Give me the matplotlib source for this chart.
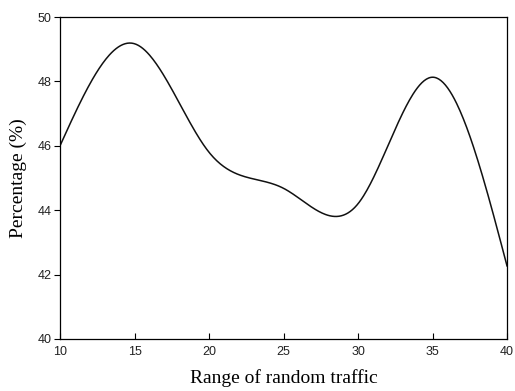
import matplotlib
matplotlib.use("Agg")
import matplotlib.pyplot as plt
import numpy as np

# values
traffic_range = [10, 15, 20, 25, 30, 35, 40]
percentage = [46.0, 49.17, 45.8, 44.68, 44.2, 48.13, 42.27]
x_ticks = [10, 15, 20, 25, 30, 35, 40]
y_ticks = [40, 42, 44, 46, 48, 50]


def natural_spline(x, y, n=400):
    """Natural cubic spline through the points, used only to draw a smooth line."""
    x = np.asarray(x, float)
    y = np.asarray(y, float)
    k = len(x)
    h = np.diff(x)
    A = np.zeros((k, k))
    b = np.zeros(k)
    A[0, 0] = A[-1, -1] = 1
    for i in range(1, k - 1):
        A[i, i - 1] = h[i - 1]
        A[i, i] = 2 * (h[i - 1] + h[i])
        A[i, i + 1] = h[i]
        b[i] = 3 * ((y[i + 1] - y[i]) / h[i] - (y[i] - y[i - 1]) / h[i - 1])
    c = np.linalg.solve(A, b)
    xs = np.linspace(x[0], x[-1], n)
    idx = np.clip(np.searchsorted(x, xs) - 1, 0, k - 2)
    dx = xs - x[idx]
    hi = h[idx]
    bi = (y[idx + 1] - y[idx]) / hi - hi * (2 * c[idx] + c[idx + 1]) / 3
    di = (c[idx + 1] - c[idx]) / (3 * hi)
    ys = y[idx] + bi * dx + c[idx] * dx ** 2 + di * dx ** 3
    return xs, ys


fig = plt.figure(figsize=(5.15, 3.91), dpi=100)
ax = fig.add_axes([0.1165, 0.133, 0.868, 0.8235])

xs, ys = natural_spline(traffic_range, percentage)
ax.plot(xs, ys, color="#111111", linewidth=1.1)

ax.set_xlim(10, 40)
ax.set_ylim(40, 50)
ax.set_xticks(x_ticks)
ax.set_yticks(y_ticks)
ax.tick_params(axis="x", direction="in", length=4, width=0.8, pad=5,
               labelsize=9, labelcolor="#222222")
ax.tick_params(axis="y", direction="out", length=4, width=0.8, pad=2,
               labelsize=9, labelcolor="#222222")
for lbl in ax.get_xticklabels() + ax.get_yticklabels():
    lbl.set_fontfamily("Liberation Sans")
for s in ax.spines.values():
    s.set_linewidth(0.9)

ax.set_xlabel("Range of random traffic", fontfamily="Liberation Serif",
              fontsize=14, labelpad=8)
ax.set_ylabel("Percentage (%)", fontfamily="Liberation Serif",
              fontsize=14, labelpad=8)

fig.savefig("out.png", dpi=100)
